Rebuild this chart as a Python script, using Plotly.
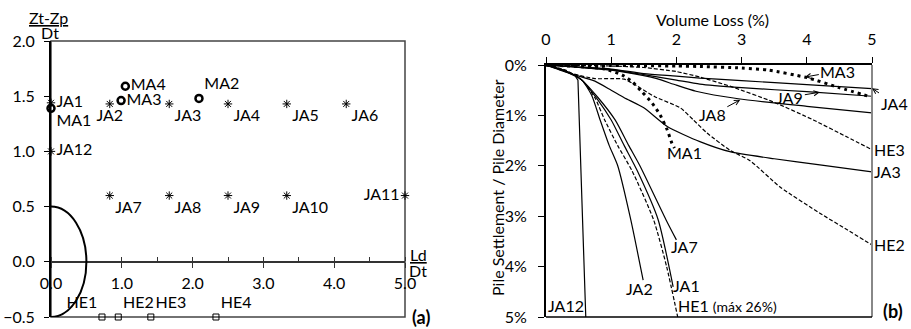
import plotly.graph_objects as go

# ---------------- Panel (a): pile locations ----------------
ja_names = ["JA1", "JA2", "JA3", "JA4", "JA5", "JA6", "JA7", "JA8", "JA9", "JA10", "JA11", "JA12"]
ja_ld = [0.0, 0.83, 1.67, 2.5, 3.33, 4.17, 0.83, 1.67, 2.5, 3.33, 5.0, 0.0]
ja_z = [1.44, 1.43, 1.43, 1.43, 1.43, 1.43, 0.6, 0.6, 0.6, 0.6, 0.6, 1.0]
ja_pos = ["middle right", "bottom center", "bottom right", "bottom right", "bottom right", "bottom right",
          "bottom right", "bottom right", "bottom right", "bottom right", "middle left", "middle right"]

ma_names = ["MA1", "MA2", "MA3", "MA4"]
ma_ld = [0.0, 2.09, 0.99, 1.05]
ma_z = [1.39, 1.48, 1.46, 1.59]
ma_pos = ["bottom right", "top right", "middle right", "middle right"]

he_names = ["HE1", "HE2", "HE3", "HE4"]
he_ld = [0.72, 0.95, 1.41, 2.33]
he_z = [-0.5, -0.5, -0.5, -0.5]
he_pos = ["top left", "top right", "top right", "top right"]

tunnel_radius = 0.5
a_xticks = [0, 1, 2, 3, 4, 5]
a_yticks = [-0.5, 0.0, 0.5, 1.0, 1.5, 2.0]

# ---------------- Panel (b): settlement curves ----------------
vl_ja1 = [0, 0.3, 0.55, 0.8, 1.0, 1.2, 1.4, 1.72, 1.95]
st_ja1 = [0, 0.12, 0.3, 0.7, 1.09, 1.6, 2.1, 3.07, 4.4]
vl_ja2 = [0, 0.3, 0.55, 0.7, 0.83, 0.97, 1.1, 1.3, 1.49]
st_ja2 = [0, 0.12, 0.3, 0.6, 1.09, 1.6, 2.0, 3.07, 4.27]
vl_ja3 = [0, 0.4, 0.75, 1.0, 1.2, 1.5, 1.86, 2.36, 2.82, 3.5, 4.2, 5.0]
st_ja3 = [0, 0.18, 0.32, 0.5, 0.65, 0.85, 1.22, 1.52, 1.72, 1.86, 1.98, 2.12]
vl_ja4 = [0, 0.5, 1.0, 1.5, 2.0, 2.36, 3.0, 4.0, 5.0]
st_ja4 = [0, 0.04, 0.08, 0.17, 0.22, 0.26, 0.31, 0.39, 0.47]
vl_ja7 = [0, 0.3, 0.55, 0.8, 1.06, 1.27, 1.44, 1.84, 2.0]
st_ja7 = [0, 0.12, 0.3, 0.65, 1.09, 1.6, 2.0, 3.07, 3.47]
vl_ja8 = [0, 0.5, 1.0, 1.5, 1.7, 2.0, 2.3, 2.95, 4.0, 5.0]
st_ja8 = [0, 0.05, 0.1, 0.21, 0.27, 0.4, 0.52, 0.67, 0.82, 0.95]
vl_ja9 = [0, 0.5, 1.0, 1.5, 2.0, 2.36, 3.0, 4.0, 5.0]
st_ja9 = [0, 0.04, 0.09, 0.19, 0.3, 0.38, 0.45, 0.53, 0.62]
vl_ja12 = [0, 0.25, 0.45, 0.49, 0.61]
st_ja12 = [0, 0.1, 0.22, 0.3, 5.0]
vl_he1 = [0, 0.3, 0.55, 0.75, 0.9, 1.1, 1.32, 1.65, 1.85, 2.02]
st_he1 = [0, 0.1, 0.3, 0.65, 1.09, 1.6, 2.1, 3.07, 4.0, 5.0]
vl_he2 = [0, 0.4, 0.75, 1.0, 1.2, 1.35, 1.67, 2.06, 2.26, 2.47, 2.82, 3.13, 3.59, 4.2, 4.62, 5.0]
st_he2 = [0, 0.17, 0.27, 0.27, 0.28, 0.38, 0.63, 0.85, 1.09, 1.35, 1.69, 1.9, 2.42, 2.94, 3.27, 3.57]
vl_he3 = [0, 0.5, 1.0, 1.5, 2.0, 2.36, 2.82, 3.48, 4.1, 4.62, 5.0]
st_he3 = [0, 0.01, 0.02, 0.05, 0.13, 0.24, 0.42, 0.73, 1.09, 1.43, 1.68]
vl_ma1 = [0, 0.5, 0.9, 1.17, 1.32, 1.47, 1.63, 1.75, 1.86, 1.93, 1.97]
st_ma1 = [0, 0.03, 0.08, 0.2, 0.33, 0.53, 0.76, 0.99, 1.29, 1.55, 1.65]
vl_ma3 = [0, 1.0, 2.0, 2.36, 3.0, 3.4, 4.0, 4.5, 5.0]
st_ma3 = [0, 0.01, 0.02, 0.03, 0.06, 0.1, 0.25, 0.45, 0.64]

b_xticks = [0, 1, 2, 3, 4, 5]
b_yticks = [0, 1, 2, 3, 4, 5]
b_yticktext = ["%d%%" % v for v in b_yticks]

FONT = "Lato"
FS = 16
W, H = 911, 329

fig = go.Figure()

# panel (a) traces
fig.add_trace(go.Scatter(x=ja_ld, y=ja_z, mode="markers+text", text=ja_names, textposition=ja_pos,
                         marker=dict(symbol="asterisk-open", size=7, color="black",
                                     line=dict(color="black", width=1)),
                         textfont=dict(family=FONT, size=FS, color="black"), cliponaxis=False,
                         xaxis="x", yaxis="y", showlegend=False))
fig.add_trace(go.Scatter(x=ma_ld, y=ma_z, mode="markers+text", text=ma_names, textposition=ma_pos,
                         marker=dict(symbol="circle-open", size=7, color="black",
                                     line=dict(color="black", width=2.5)),
                         textfont=dict(family=FONT, size=FS, color="black"), cliponaxis=False,
                         xaxis="x", yaxis="y", showlegend=False))
fig.add_trace(go.Scatter(x=he_ld, y=he_z, mode="markers+text", text=he_names, textposition=he_pos,
                         marker=dict(symbol="square-open", size=6, color="black",
                                     line=dict(color="black", width=1)),
                         textfont=dict(family=FONT, size=FS, color="black"), cliponaxis=False,
                         xaxis="x", yaxis="y", showlegend=False))

# panel (b) traces
solid = dict(color="black", width=1.2)
dashed = dict(color="black", width=1.2, dash="4px,2px")
dotted = dict(color="black", width=3, dash="3px,4px")
curves = [
    (vl_ja1, st_ja1, solid), (vl_ja2, st_ja2, solid), (vl_ja3, st_ja3, solid), (vl_ja4, st_ja4, solid),
    (vl_ja7, st_ja7, solid), (vl_ja8, st_ja8, solid), (vl_ja9, st_ja9, solid),
    (vl_he1, st_he1, dashed), (vl_he2, st_he2, dashed), (vl_he3, st_he3, dashed),
    (vl_ma1, st_ma1, dotted), (vl_ma3, st_ma3, dotted),
]
for xs, ys, ln in curves:
    fig.add_trace(go.Scatter(x=xs, y=ys, mode="lines", line=dict(shape="spline", smoothing=0.6, **ln),
                             xaxis="x2", yaxis="y2", showlegend=False, hoverinfo="skip"))
fig.add_trace(go.Scatter(x=vl_ja12, y=st_ja12, mode="lines", line=solid,
                         xaxis="x2", yaxis="y2", showlegend=False))

def px_to_paper_x(p):
    return p / W

def px_to_paper_y(p):
    return 1 - p / H

axis_font = dict(family=FONT, size=FS, color="black")

fig.update_layout(
    width=W, height=H, margin=dict(l=0, r=0, t=0, b=0, pad=0), autosize=False,
    paper_bgcolor="white", plot_bgcolor="white",
    font=axis_font,
    xaxis=dict(domain=[px_to_paper_x(51), px_to_paper_x(405)], range=[0, 5], anchor="free",
               position=px_to_paper_y(262), tickvals=a_xticks, tickformat=".1f",
               ticks="outside", ticklen=5, tickcolor="#333", tickwidth=1.3,
               minor=dict(dtick=0.5, ticks="inside", ticklen=4, tickcolor="#333"),
               showline=True, linecolor="#333", linewidth=1.5, showgrid=False, zeroline=False,
               ticklabelstandoff=2, tickfont=axis_font, automargin=False),
    yaxis=dict(domain=[px_to_paper_y(317), px_to_paper_y(41)], range=[-0.5, 2.0], anchor="x",
               tickvals=a_yticks, tickformat=".1f", ticks="outside", ticklen=5, tickcolor="black",
               showline=True, linecolor="black", linewidth=2, showgrid=False, zeroline=False,
               ticklabelstandoff=6, tickfont=axis_font, automargin=False),
    xaxis2=dict(domain=[px_to_paper_x(546), px_to_paper_x(872)], range=[0, 5], anchor="y2", side="top",
                tickvals=b_xticks, ticks="outside", ticklen=6, tickcolor="black",
                showline=True, linecolor="black", linewidth=2, showgrid=False, zeroline=False,
                ticklabelstandoff=6, tickfont=axis_font, automargin=False),
    yaxis2=dict(domain=[px_to_paper_y(317), px_to_paper_y(65)], range=[5, 0], anchor="x2",
                tickvals=b_yticks, ticktext=b_yticktext, ticks="outside", ticklen=6, tickcolor="black",
                showline=True, linecolor="black", linewidth=2, showgrid=False, zeroline=False,
                ticklabelstandoff=8, tickfont=axis_font, automargin=False),
)

# frame / tunnel shapes
fig.add_shape(type="rect", xref="x domain", yref="y domain", x0=0, x1=1, y0=0, y1=1,
              line=dict(color="#444", width=1.5), layer="below")
fig.add_shape(type="circle", xref="x", yref="y", x0=-tunnel_radius, x1=tunnel_radius,
              y0=-tunnel_radius, y1=tunnel_radius, line=dict(color="black", width=2))
fig.add_shape(type="line", xref="x2 domain", yref="y2 domain", x0=1, x1=1, y0=0, y1=1,
              line=dict(color="#888", width=2))
fig.add_shape(type="line", xref="x2 domain", yref="y2 domain", x0=0, x1=1, y0=0, y1=0,
              line=dict(color="black", width=1.5))

ann = []
def txt(x, y, s, xref="paper", yref="paper", xa="center", ya="middle", size=FS, bold=False, angle=0):
    ann.append(dict(x=x, y=y, xref=xref, yref=yref, text=("<b>%s</b>" % s) if bold else s,
                    showarrow=False, xanchor=xa, yanchor=ya, textangle=angle,
                    font=dict(family=FONT, size=size, color="black")))

# panel (a) axis titles
txt(px_to_paper_x(48), px_to_paper_y(18), "<u>Zt-Zp</u>")
txt(px_to_paper_x(50), px_to_paper_y(33), "Dt")
txt(px_to_paper_x(418), px_to_paper_y(254), "<u>Ld</u>")
txt(px_to_paper_x(418), px_to_paper_y(270), "Dt")
txt(px_to_paper_x(421), px_to_paper_y(317), "(a)", size=18, bold=True)
# panel (b) titles
txt(px_to_paper_x(712), px_to_paper_y(19), "Volume Loss (%)")
txt(px_to_paper_x(497), px_to_paper_y(188), "Pile Settlement / Pile Diameter", angle=-90)
txt(px_to_paper_x(893), px_to_paper_y(311), "(b)", size=18, bold=True)

# panel (b) curve labels
txt(5.0, st_he3[-1], "HE3", "x2", "y2", xa="left")
txt(5.0, st_ja3[-1], "JA3", "x2", "y2", xa="left")
txt(5.0, st_he2[-1], "HE2", "x2", "y2", xa="left")
txt(2.12, 1.73, "MA1", "x2", "y2")
txt(2.12, 3.61, "JA7", "x2", "y2")
txt(2.16, 4.38, "JA1", "x2", "y2")
txt(1.44, 4.43, "JA2", "x2", "y2")
txt(0.31, 4.78, "JA12", "x2", "y2")
txt(2.0, 4.78, "HE1 <span style='font-size:14px'>(máx 26%)</span>", "x2", "y2", xa="left")

def arrow(x, y, s, axp, ayp):
    ann.append(dict(x=x, y=y, xref="x2", yref="y2", text=s, showarrow=True, ax=axp, ay=ayp,
                    arrowhead=5, arrowsize=1, arrowwidth=1, arrowcolor="black",
                    font=dict(family=FONT, size=FS, color="black")))

arrow(3.97, 0.24, "MA3", 33, -6)
arrow(5.0, 0.46, "JA4", 22, 15)
arrow(4.2, 0.54, "JA9", -30, 5)
arrow(2.98, 0.69, "JA8", -28, 15)

fig.update_layout(annotations=ann)
fig.write_html("out.html", config={"displayModeBar": False},
               post_script="document.body.style.margin='0';document.body.style.overflow='hidden';")
